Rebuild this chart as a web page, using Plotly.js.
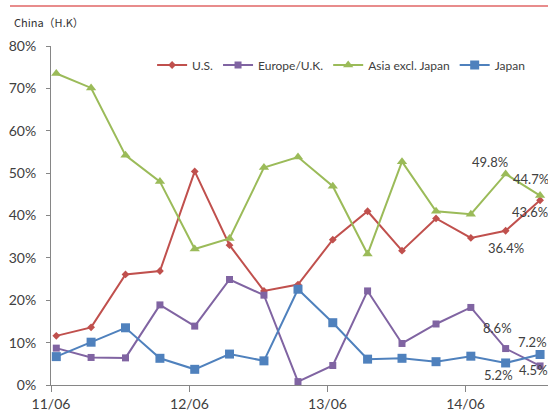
<!DOCTYPE html>
<html>
<head>
<meta charset="utf-8">
<script src="https://cdn.plot.ly/plotly-3.0.1.min.js"></script>
<style>
  html, body { margin: 0; padding: 0; background: #ffffff; }
  #chart { width: 548px; height: 412px; }
</style>
</head>
<body>
<div id="chart"></div>
<script>
// Quarterly observation dates (mid-month), 2011/06 .. 2014/12
const quarters = [
  '2011-06-15', '2011-09-15', '2011-12-15', '2012-03-15',
  '2012-06-15', '2012-09-15', '2012-12-15', '2013-03-15',
  '2013-06-15', '2013-09-15', '2013-12-15', '2014-03-15',
  '2014-06-15', '2014-09-15', '2014-12-15'
];

// Share by region (%)
const usShare     = [11.6, 13.6, 26.1, 26.9, 50.4, 33.0, 22.2, 23.7, 34.3, 41.0, 31.7, 39.3, 34.7, 36.4, 43.6];
const europeShare = [8.7, 6.5, 6.4, 18.9, 13.9, 24.9, 21.2, 0.8, 4.6, 22.2, 9.8, 14.4, 18.3, 8.6, 4.5];
const asiaShare   = [73.5, 70.1, 54.2, 48.0, 32.1, 34.6, 51.3, 53.8, 46.9, 30.9, 52.7, 41.0, 40.3, 49.8, 44.7];
const japanShare  = [6.7, 10.1, 13.5, 6.3, 3.7, 7.3, 5.7, 22.6, 14.7, 6.1, 6.3, 5.5, 6.8, 5.2, 7.2];

const seriesNames = ['U.S.', 'Europe/U.K.', 'Asia excl. Japan', 'Japan'];

// Year-on-year tick marks at the start of each June
const tickDates = ['2011-06-01', '2012-06-01', '2013-06-01', '2014-06-01'];
const tickLabels = ['11/06', '12/06', '13/06', '14/06'];

const series = [
  { name: seriesNames[0], y: usShare,     color: '#c0504d', symbol: 'diamond',      size: 6 },
  { name: seriesNames[1], y: europeShare, color: '#8064a2', symbol: 'square',       size: 7 },
  { name: seriesNames[2], y: asiaShare,   color: '#9bbb59', symbol: 'triangle-up',  size: 9 },
  { name: seriesNames[3], y: japanShare,  color: '#4f81bd', symbol: 'square',       size: 9 }
];

const traces = series.map(s => ({
  type: 'scatter',
  mode: 'lines+markers',
  name: s.name,
  x: quarters,
  y: s.y,
  line: { color: s.color, width: 2 },
  marker: { color: s.color, symbol: s.symbol, size: s.size },
  cliponaxis: false
}));

// Value labels on the last two quarters: [series values, index, x offset, y offset]
const labelSpecs = [
  [asiaShare,   13, -16, -12],
  [asiaShare,   14,  -9, -17],
  [usShare,     13,   0,  17],
  [usShare,     14, -10,  12],
  [europeShare, 13,  -8, -21],
  [europeShare, 14,  -7,   4],
  [japanShare,  13,  -7,  12],
  [japanShare,  14,  -8, -12]
];

const labelFont = { family: 'Lato, "Liberation Sans", sans-serif', size: 13, color: '#404040' };

const annotations = labelSpecs.map(([vals, i, dx, dy]) => ({
  x: quarters[i],
  y: vals[i],
  xref: 'x',
  yref: 'y',
  text: vals[i].toFixed(1) + '%',
  showarrow: false,
  xshift: dx,
  yshift: -dy,
  font: labelFont
}));

annotations.push({
  x: -0.079, y: 1.071, xref: 'paper', yref: 'paper',
  xanchor: 'left', yanchor: 'middle',
  text: 'China（H.K）',
  showarrow: false,
  font: { family: '"Noto Sans CJK JP", sans-serif', size: 11, color: '#333333' }
});

const layout = {
  width: 548,
  height: 412,
  margin: { l: 51, r: 0, t: 46, b: 27, pad: 0 },
  paper_bgcolor: '#ffffff',
  plot_bgcolor: '#ffffff',
  showlegend: true,
  legend: {
    orientation: 'h',
    x: 0.964, xanchor: 'right',
    y: 0.944, yanchor: 'middle',
    font: { family: 'Lato, "Liberation Sans", sans-serif', size: 12, color: '#404040' },
    bgcolor: 'rgba(0,0,0,0)',
    itemwidth: 30,
    tracegroupgap: 0
  },
  xaxis: {
    type: 'date',
    range: ['2011-06-01', '2015-01-05'],
    tickvals: tickDates,
    ticktext: tickLabels,
    ticks: 'outside',
    ticklen: 6,
    tickcolor: '#868686',
    showline: true,
    linecolor: '#868686',
    linewidth: 1,
    showgrid: false,
    zeroline: false,
    tickfont: { family: 'Lato, "Liberation Sans", sans-serif', size: 14, color: '#404040' }
  },
  yaxis: {
    range: [0, 80],
    dtick: 10,
    ticksuffix: '%',
    ticks: 'outside',
    ticklen: 4,
    tickcolor: '#868686',
    showline: true,
    linecolor: '#868686',
    linewidth: 1,
    showgrid: false,
    zeroline: false,
    ticklabelstandoff: 7,
    tickfont: { family: 'Lato, "Liberation Sans", sans-serif', size: 14, color: '#404040' }
  },
  shapes: [{
    type: 'line',
    xref: 'paper', yref: 'paper',
    x0: -0.0825, x1: 1.0, y0: 1.118, y1: 1.118,
    line: { color: '#e06666', width: 1.5 }
  }],
  annotations: annotations
};

Plotly.newPlot('chart', traces, layout, { displayModeBar: false, staticPlot: true });
</script>
</body>
</html>
